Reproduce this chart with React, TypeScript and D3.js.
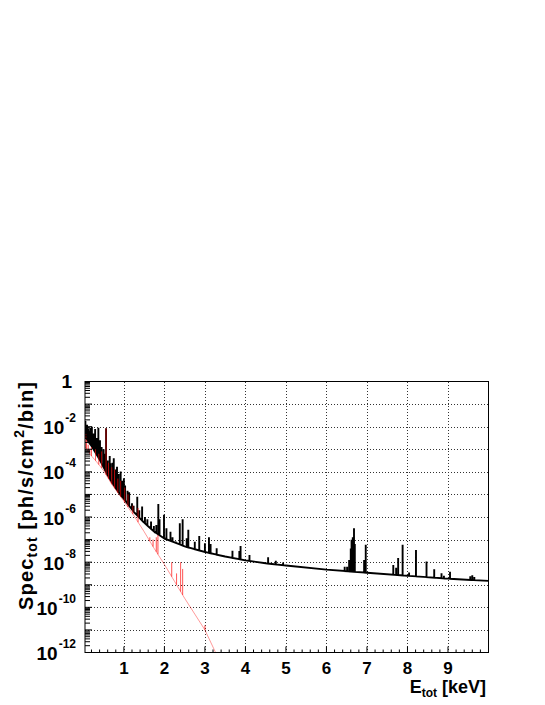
import * as d3 from "d3";

const W = 545;
const H = 705;
const frame = { left: 85, right: 488.5, top: 381.5, bottom: 652.5 };

// total spectrum (black): continuum, log10 of ph/s/cm2/bin
const totE = [0.04, 0.1, 0.2, 0.3, 0.4, 0.5, 0.6, 0.7, 0.8, 0.9, 1.0, 1.25, 1.5, 1.75, 2.0, 2.5, 3.0, 3.5, 4.0, 4.5, 5.0, 6.0, 7.0, 8.0, 9.0, 10.0];
const totLog = [-2.4, -2.6, -2.85, -3.15, -3.45, -3.8, -4.15, -4.45, -4.72, -4.98, -5.2, -5.78, -6.25, -6.65, -6.95, -7.3, -7.55, -7.75, -7.92, -8.05, -8.15, -8.33, -8.47, -8.6, -8.73, -8.83];

// emission lines on the total spectrum
const totLineE = [0.05, 0.09, 0.12, 0.15, 0.18, 0.21, 0.25, 0.29, 0.33, 0.37, 0.41, 0.45, 0.5, 0.53, 0.56, 0.6, 0.65, 0.67, 0.72, 0.75, 0.8, 0.83, 0.87, 0.92, 0.96, 1.0, 1.03, 1.09, 1.13, 1.2, 1.24, 1.33, 1.38, 1.45, 1.52, 1.58, 1.67, 1.74, 1.8, 1.85, 1.88, 1.99, 2.05, 2.15, 2.2, 2.28, 2.38, 2.45, 2.55, 2.59, 2.75, 2.86, 3.0, 3.1, 3.14, 3.29, 3.68, 3.85, 3.88, 4.1, 4.56, 4.75, 4.93, 6.45, 6.51, 6.56, 6.6, 6.62, 6.65, 6.68, 6.7, 6.93, 6.97, 7.65, 7.72, 7.77, 7.88, 8.04, 8.21, 8.47, 8.66, 8.84, 8.9, 9.05, 9.55, 9.6, 9.65];
const totLinePeak = [-1.75, -1.92, -2.1, -2.2, -2.05, -2.0, -2.3, -2.1, -2.5, -2.05, -2.6, -2.9, -3.0, -3.2, -2.07, -3.5, -3.3, -3.62, -3.6, -3.4, -3.9, -3.77, -4.1, -3.99, -4.4, -4.28, -4.6, -4.84, -4.9, -5.39, -5.5, -5.1, -5.7, -5.54, -6.0, -6.1, -6.2, -6.4, -6.35, -5.42, -6.1, -5.9, -6.5, -6.65, -6.9, -7.09, -6.28, -6.1, -6.94, -6.57, -7.1, -6.84, -7.16, -6.9, -7.2, -7.38, -7.49, -7.5, -7.28, -7.68, -7.78, -7.94, -8.02, -8.2, -8.2, -7.9, -7.4, -7.01, -6.9, -6.5, -7.2, -7.9, -7.23, -8.12, -8.25, -7.82, -7.23, -8.46, -7.46, -7.97, -8.31, -8.49, -8.6, -8.42, -8.62, -8.58, -8.66];

// second component (red)
const compE = [0.04, 0.1, 0.2, 0.3, 0.4, 0.5, 0.6, 0.7, 0.8, 0.9, 1.0, 1.25, 1.5, 1.75, 2.0, 2.25, 2.5, 2.75, 3.0, 3.25, 3.4];
const compLog = [-2.9, -3.05, -3.3, -3.5, -3.72, -3.95, -4.25, -4.55, -4.8, -5.05, -5.3, -5.95, -6.65, -7.4, -8.1, -8.85, -9.6, -10.3, -11.0, -11.95, -12.5];
const compLineE = [0.06, 0.08, 0.12, 0.16, 0.2, 0.3, 0.38, 0.45, 0.56, 0.62, 0.7, 0.77, 0.85, 0.92, 1.02, 1.1, 1.22, 1.35, 1.64, 1.72, 1.8, 1.84, 2.18, 2.3, 2.4, 2.45, 3.0];
const compLinePeak = [-2.3, -2.6, -2.8, -3.0, -2.9, -3.0, -3.2, -3.1, -2.07, -3.6, -3.8, -3.9, -4.3, -4.4, -4.7, -5.0, -5.5, -5.6, -6.9, -7.0, -6.9, -6.8, -8.0, -8.5, -8.0, -8.3, -10.8];

const xTicks = [1, 2, 3, 4, 5, 6, 7, 8, 9];
const yLabelExp = [0, -2, -4, -6, -8, -10, -12];

const x = d3.scaleLinear([0.04, 10], [frame.left, frame.right]);
const y = d3.scaleLog([1e-12, 1], [frame.bottom, frame.top]);

type Pt = { e: number; v: number };

function spectrumPath(cE: number[], cLog: number[], lE: number[], lPeak: number[]) {
  const base = d3.scaleLinear(cE, cLog).clamp(true);
  const pts: Pt[] = cE.map((e, i) => ({ e, v: cLog[i] }));
  lE.forEach((e, i) => {
    const b = base(e);
    pts.push({ e, v: b }, { e, v: lPeak[i] }, { e, v: b });
  });
  pts.sort((a, b) => a.e - b.e);
  return d3.line<Pt>().x(p => x(p.e)).y(p => y(Math.pow(10, p.v)))(pts) ?? "";
}

const font = "'Liberation Sans', Arial, Helvetica, sans-serif";

export default function App() {
  const minorX = d3.range(0.2, 10, 0.2).filter(v => Math.abs(v - Math.round(v)) > 0.01);
  const decades = d3.range(-12, 1);
  const minorY: number[] = [];
  decades.slice(0, -1).forEach(d => {
    for (let k = 2; k <= 9; k++) minorY.push(k * Math.pow(10, d));
  });

  return (
    <div style={{ position: "absolute", left: 0, top: 0 }}>
      <svg width={W} height={H} style={{ display: "block", background: "#fff" }} fontFamily={font} fontWeight="bold">
        <defs>
          <clipPath id="plot">
            <rect x={frame.left} y={frame.top} width={frame.right - frame.left} height={frame.bottom - frame.top} />
          </clipPath>
        </defs>

        {/* grid */}
        <g stroke="#333" strokeWidth={1} strokeDasharray="1 2" shapeRendering="crispEdges">
          {xTicks.map(t => (
            <line key={"gx" + t} x1={Math.round(x(t)) + 0.5} x2={Math.round(x(t)) + 0.5} y1={frame.top} y2={frame.bottom} />
          ))}
          {decades.slice(1, -1).map(d => (
            <line key={"gy" + d} x1={frame.left} x2={frame.right} y1={Math.round(y(Math.pow(10, d))) + 0.5} y2={Math.round(y(Math.pow(10, d))) + 0.5} />
          ))}
        </g>

        {/* spectra */}
        <g clipPath="url(#plot)" fill="none">
          <path d={spectrumPath(totE, totLog, totLineE, totLinePeak)} stroke="#000" strokeWidth={1.9} strokeLinejoin="miter" />
          <path d={spectrumPath(compE, compLog, compLineE, compLinePeak)} stroke="#ff0000" strokeWidth={1} strokeOpacity={0.4} />
        </g>

        {/* ticks */}
        <g stroke="#000" strokeWidth={1}>
          {xTicks.map(t => (
            <line key={"tx" + t} x1={x(t)} x2={x(t)} y1={frame.bottom} y2={frame.bottom - 6} />
          ))}
          {minorX.map(t => (
            <line key={"mx" + t} x1={x(t)} x2={x(t)} y1={frame.bottom} y2={frame.bottom - 3} />
          ))}
          {decades.map(d => (
            <line key={"ty" + d} x1={frame.left} x2={frame.left + 7} y1={y(Math.pow(10, d))} y2={y(Math.pow(10, d))} />
          ))}
          {minorY.map((v, i) => (
            <line key={"my" + i} x1={frame.left} x2={frame.left + 5} y1={y(v)} y2={y(v)} />
          ))}
        </g>

        <rect x={frame.left} y={frame.top} width={frame.right - frame.left} height={frame.bottom - frame.top} fill="none" stroke="#000" strokeWidth={1} />

        {/* x labels */}
        {xTicks.map(t => (
          <text key={"lx" + t} x={x(t)} y={674} textAnchor="middle" fontSize={17}>{t}</text>
        ))}

        {/* y labels */}
        {yLabelExp.map(p => {
          const ty = y(Math.pow(10, p));
          if (p === 0) {
            return <text key="ly0" x={72} y={ty + 6} textAnchor="end" fontSize={19}>1</text>;
          }
          return (
            <text key={"ly" + p} x={76} y={ty + 7.5} textAnchor="end" fontSize={19}>
              10<tspan dx={1} dy={-12} fontSize={12}>{p}</tspan>
            </text>
          );
        })}

        {/* axis titles */}
        <text x={486} y={693} textAnchor="end" fontSize={18}>
          E<tspan dy={4} fontSize={12}>tot</tspan><tspan dy={-4}> [keV]</tspan>
        </text>
        <text transform={`translate(33,382) rotate(-90)`} textAnchor="end" fontSize={20} textLength={228} lengthAdjust="spacing">
          Spec<tspan dy={4} fontSize={14}>tot</tspan><tspan dy={-4}> [ph/s/cm</tspan><tspan dy={-9} fontSize={14}>2</tspan><tspan dy={9}>/bin]</tspan>
        </text>
      </svg>
    </div>
  );
}
